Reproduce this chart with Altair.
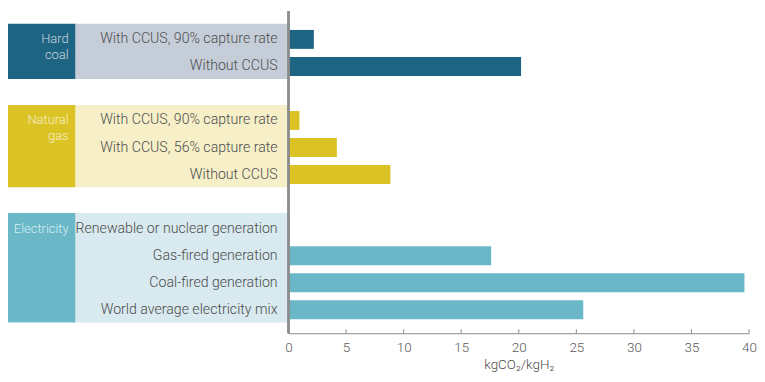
import altair as alt
import pandas as pd

# ---- data ----
groups = ["Hard coal", "Hard coal",
          "Natural gas", "Natural gas", "Natural gas",
          "Electricity", "Electricity", "Electricity", "Electricity"]
labels = ["With CCUS, 90% capture rate", "Without CCUS",
          "With CCUS, 90% capture rate", "With CCUS, 56% capture rate", "Without CCUS",
          "Renewable or nuclear generation", "Gas-fired generation",
          "Coal-fired generation", "World average electricity mix"]
values = [2.2, 20.2, 0.95, 4.2, 8.85, 0.0, 17.6, 39.6, 25.6]
group_names = ["Hard coal", "Natural gas", "Electricity"]
x_ticks = [0, 5, 10, 15, 20, 25, 30, 35, 40]
x_title = "kgCO₂/kgH₂"

# ---- styles ----
dark_colors = ["#1e6483", "#dcc325", "#6ab8c7"]
light_colors = ["#c5cdd9", "#f6efc8", "#d8e9ef"]
group_text_colors = ["#c9d5de", "#f6efc8", "#d6eef3"]

keys = [f"{g}|{l}" for g, l in zip(groups, labels)]
df = pd.DataFrame({"group": groups, "label": labels, "value": values, "key": keys})

# row order with spacer rows between groups
row_order = []
for i, g in enumerate(group_names):
    if i > 0:
        row_order.append(f"spacer{i}")
    row_order += [k for k, gg in zip(keys, groups) if gg == g]

first_rows = df.groupby("group", sort=False).first().reset_index()

H = 324
LW = 287  # left panel width
yscale = alt.Scale(domain=row_order, paddingInner=0, paddingOuter=0.46, align=0.6)
y_enc = alt.Y("key:N", scale=yscale, axis=None)

font = "Roboto"
axis_grey = "#8c8c8c"


def gscale(rng):
    return alt.Scale(domain=group_names, range=rng)


# ---- left panel: category boxes and labels ----
base_left = alt.Chart(df)
light_rect = base_left.mark_rect(strokeWidth=1.2, yOffset=-1.5).encode(
    x=alt.value(72), x2=alt.value(LW), y=y_enc,
    fill=alt.Fill("group:N", scale=gscale(light_colors), legend=None),
    stroke=alt.Stroke("group:N", scale=gscale(light_colors), legend=None),
)
dark_rect = base_left.mark_rect(strokeWidth=1.2, yOffset=-1.5).encode(
    x=alt.value(0.6), x2=alt.value(72), y=y_enc,
    fill=alt.Fill("group:N", scale=gscale(dark_colors), legend=None),
    stroke=alt.Stroke("group:N", scale=gscale(dark_colors), legend=None),
)
row_text = base_left.mark_text(align="right", baseline="middle", font=font, fontSize=14.2,
                               fontWeight=300, color="#4d4d4d").encode(
    x=alt.value(276), y=y_enc, text="label:N")
group_text = alt.Chart(first_rows).mark_text(
    align="right", baseline="line-top", dy=-8, lineHeight=16, lineBreak=" ",
    font=font, fontSize=13, fontWeight=300).encode(
    x=alt.value(66), y=y_enc, text="group:N",
    color=alt.Color("group:N", scale=gscale(group_text_colors), legend=None),
)
left = alt.layer(light_rect, dark_rect, row_text, group_text).resolve_scale(
    fill="independent", stroke="independent", color="independent"
).properties(width=LW, height=H)

# ---- right panel: bars ----
bars = alt.Chart(df).mark_bar(height={"band": 0.7}).encode(
    x=alt.X("value:Q", scale=alt.Scale(domain=[0, 40], nice=False),
            axis=alt.Axis(values=x_ticks, title=x_title, ticks=False, grid=False,
                          labelFlush=False,
                          domainColor=axis_grey, domainWidth=1,
                          labelFont=font, labelFontSize=13.5, labelFontWeight=300, labelColor="#5a5a5a",
                          labelPadding=7,
                          titleFont=font, titleFontSize=13.5, titleFontWeight=300, titleColor="#4d4d4d",
                          titlePadding=4)),
    y=y_enc,
    color=alt.Color("group:N", scale=gscale(dark_colors), legend=None),
)
tick_df = pd.DataFrame({"t": x_ticks})
ticks = alt.Chart(tick_df).mark_rule(color=axis_grey, strokeWidth=1).encode(
    x="t:Q", y=alt.value(H - 4), y2=alt.value(H))
vline = alt.Chart(tick_df).mark_rule(color=axis_grey, strokeWidth=1.5).encode(
    x=alt.value(0), y=alt.value(0), y2=alt.value(H))
right = alt.layer(bars, ticks, vline).properties(width=463, height=H)

chart = alt.hconcat(left, right, spacing=0, bounds="flush").resolve_scale(color="independent").properties(
    padding={"left": -5, "top": 1, "right": 0, "bottom": 0}
).configure(background="white", view=alt.ViewConfig(stroke=None))

chart.save("out.html", embed_options={"renderer": "svg", "actions": False})
